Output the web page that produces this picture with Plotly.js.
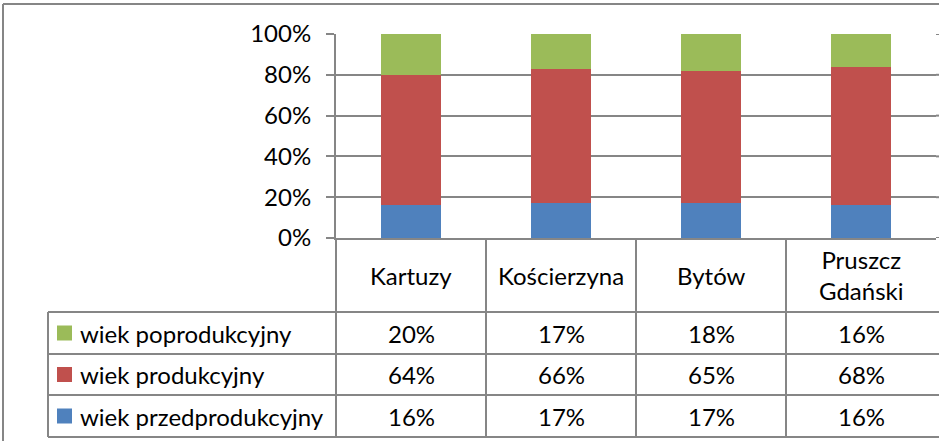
<!DOCTYPE html>
<html>
<head>
<meta charset="utf-8">
<script src="https://cdn.plot.ly/plotly-3.0.1.min.js"></script>
<style>html,body{margin:0;padding:0;background:#fff;overflow:hidden}#chart{width:939px;height:441px}</style>
</head>
<body>
<div id="chart"></div>
<script>
// Data
const categories = ["Kartuzy", "Kościerzyna", "Bytów", "Pruszcz Gdański"];
const headerLabels = ["Kartuzy", "Kościerzyna", "Bytów", "Pruszcz<br>Gdański"];
const seriesNames = ["wiek przedprodukcyjny", "wiek produkcyjny", "wiek poprodukcyjny"];
const przedprodukcyjny = [0.16, 0.17, 0.17, 0.16];
const produkcyjny = [0.64, 0.66, 0.65, 0.68];
const poprodukcyjny = [0.20, 0.17, 0.18, 0.16];
const seriesColors = ["#4F81BD", "#C0504D", "#9BBB59"];
const yTickVals = [0, 0.2, 0.4, 0.6, 0.8, 1.0];

const series = [przedprodukcyjny, produkcyjny, poprodukcyjny];

const traces = series.map((vals, i) => ({
  type: "bar",
  name: seriesNames[i],
  x: categories,
  y: vals,
  marker: {color: seriesColors[i], line: {width: 0}},
  hoverinfo: "skip"
}));

// Layout geometry (pixels)
const W = 939, H = 441;
const plotL = 336, plotR = 936, plotT = 34, plotB = 238;
const plotH = plotB - plotT;
const plotW = plotR - plotL;
const px2x = p => (p - plotL) / plotW;
const py2y = p => (plotB - p) / plotH;

const gridColor = "#868686";
const rowEdges = [238, 312, 354, 395, 437];
const tableLeft = 48;
const font = "Lato, 'Open Sans', sans-serif";
const fs = 24;
const lw = 2;

const shapes = [];
const annotations = [];

// outer frame (top and left)
shapes.push({type: "line", xref: "paper", yref: "paper", x0: px2x(3), x1: px2x(W + 4), y0: py2y(4), y1: py2y(4), line: {color: gridColor, width: lw}});
shapes.push({type: "line", xref: "paper", yref: "paper", x0: px2x(3), x1: px2x(3), y0: py2y(4), y1: py2y(H), line: {color: gridColor, width: lw}});

// continue the gridlines to the right edge
yTickVals.forEach(v => {
  shapes.push({type: "line", xref: "paper", yref: "y", x0: 1, x1: px2x(W + 4), y0: v, y1: v, line: {color: gridColor, width: lw}});
});

// table horizontal lines
for (let r = 1; r < rowEdges.length; r++) {
  shapes.push({type: "line", xref: "paper", yref: "paper", x0: px2x(tableLeft), x1: px2x(W + 4), y0: py2y(rowEdges[r]), y1: py2y(rowEdges[r]), line: {color: gridColor, width: lw}});
}
// table vertical lines (category boundaries)
for (let c = 0; c < categories.length; c++) {
  shapes.push({type: "line", xref: "paper", yref: "paper", x0: c / categories.length, x1: c / categories.length, y0: 0, y1: py2y(rowEdges[rowEdges.length - 1]), line: {color: gridColor, width: lw}});
}
// left edge of legend column
shapes.push({type: "line", xref: "paper", yref: "paper", x0: px2x(tableLeft), x1: px2x(tableLeft), y0: py2y(rowEdges[1]), y1: py2y(rowEdges[4]), line: {color: gridColor, width: lw}});

// header labels
categories.forEach((c, i) => {
  annotations.push({xref: "x", yref: "paper", x: c, y: py2y((rowEdges[0] + rowEdges[1]) / 2), text: headerLabels[i], showarrow: false, xanchor: "center", yanchor: "middle", font: {family: font, size: fs, color: "#000"}});
});

// rows: top row = poprodukcyjny, then produkcyjny, then przedprodukcyjny
const rowOrder = [2, 1, 0];
rowOrder.forEach((si, r) => {
  const yc = py2y((rowEdges[r + 1] + rowEdges[r + 2]) / 2);
  // legend key
  shapes.push({type: "rect", xref: "paper", yref: "paper", x0: px2x(57), x1: px2x(72), y0: yc - 7.5 / plotH, y1: yc + 7.5 / plotH, fillcolor: seriesColors[si], line: {width: 0}});
  annotations.push({xref: "paper", yref: "paper", x: px2x(78), y: yc, text: seriesNames[si], showarrow: false, xanchor: "left", yanchor: "middle", font: {family: font, size: fs, color: "#000"}});
  categories.forEach((c, ci) => {
    annotations.push({xref: "x", yref: "paper", x: c, y: yc, text: Math.round(series[si][ci] * 100) + "%", showarrow: false, xanchor: "center", yanchor: "middle", font: {family: font, size: fs, color: "#000"}});
  });
});

const layout = {
  width: W, height: H,
  margin: {l: plotL, r: W - plotR, t: plotT, b: H - plotB, pad: 0},
  paper_bgcolor: "#fff", plot_bgcolor: "#fff",
  barmode: "stack",
  bargap: 0.6,
  showlegend: false,
  xaxis: {type: "category", showticklabels: false, ticks: "", showgrid: false, zeroline: false, showline: true, linecolor: gridColor, linewidth: lw, fixedrange: true},
  yaxis: {range: [0, 1], tickvals: yTickVals, tickformat: ".0%", ticks: "outside", ticklen: 8, tickcolor: gridColor, tickwidth: lw,
          showgrid: true, gridcolor: gridColor, gridwidth: lw, zeroline: false, showline: true, linecolor: gridColor, linewidth: lw,
          ticklabelstandoff: 10, tickfont: {family: font, size: fs, color: "#000"}, fixedrange: true},
  shapes: shapes,
  annotations: annotations,
  font: {family: font}
};

Plotly.newPlot("chart", traces, layout, {displayModeBar: false, staticPlot: true});
</script>
</body>
</html>
